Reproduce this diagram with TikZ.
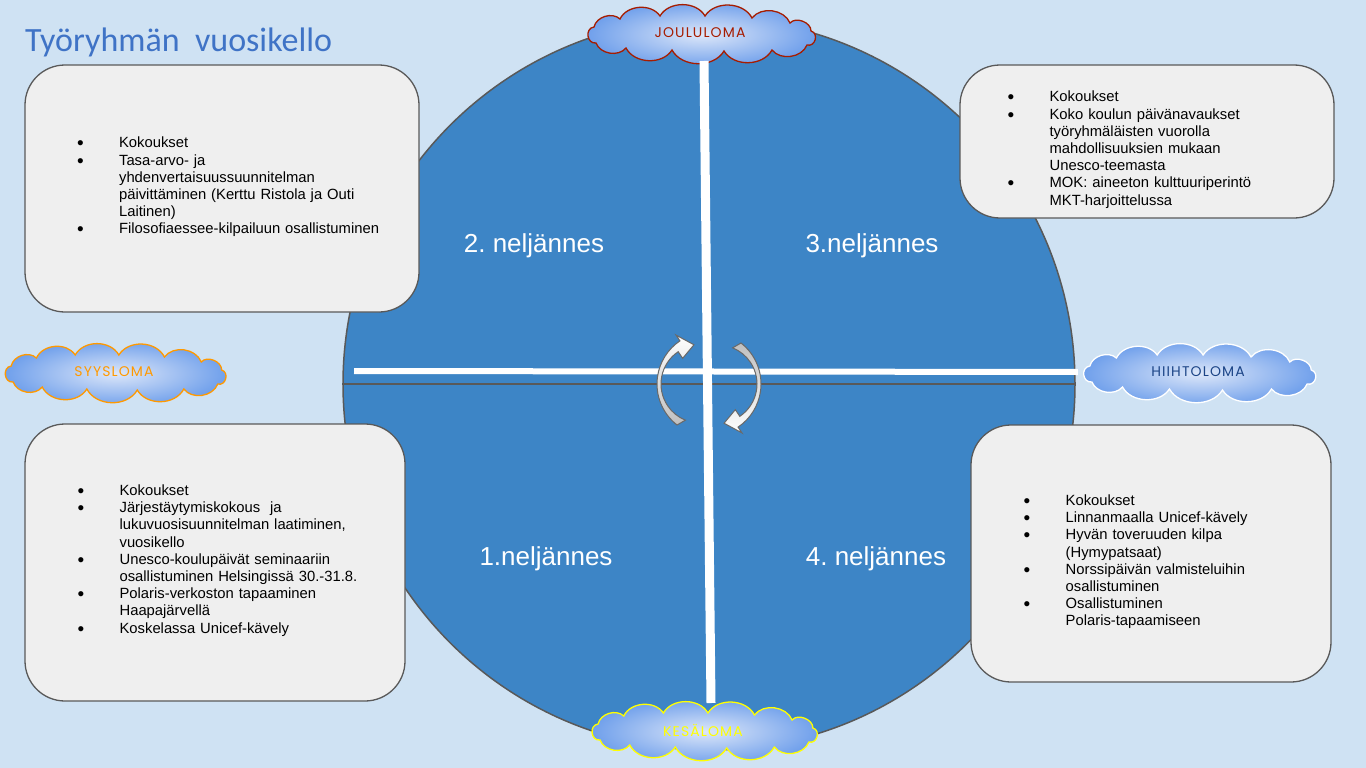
\documentclass[tikz,border=0pt]{standalone}
\usepackage{fontspec}
\setmainfont{Liberation Sans}
\newfontfamily\otsikko{Carlito}
\newfontfamily\pilvi[LetterSpace=8]{Poppins}
\usepackage{tikz}
\frenchspacing

\definecolor{tausta}{HTML}{CFE2F3}
\definecolor{pallo}{HTML}{3D85C6}
\definecolor{reuna}{HTML}{595959}
\definecolor{harmaa}{HTML}{EFEFEF}
\definecolor{otsik}{HTML}{3F73C6}
\definecolor{pilvisisa}{HTML}{DDE7F9}
\definecolor{pilviulko}{HTML}{6D9EEB}
\definecolor{joulu}{HTML}{A61C00}
\definecolor{syys}{HTML}{FF9900}
\definecolor{hiihto}{HTML}{1C4587}
\definecolor{kesa}{HTML}{FFFF00}

\tikzset{
  pilvi/.pic={
    \path[pic actions] (-104,10) to[bend left=90, looseness=1.5] (-106,-6)
      to[bend left=60] (-80,-14) to[bend left=60] (-40,-17) to[bend left=60] (5,-17)
      to[bend left=60] (52,-15) to[bend left=60] (90,-10) to[bend left=70] (111,-2)
      to[bend left=90, looseness=1.5] (107,12) to[bend left=60] (72,17) to[bend left=60] (24,18)
      to[bend left=60] (-28,17) to[bend left=60] (-74,15) to[bend left=60] (-104,10) -- cycle;
  },
  pilvivari/.style={inner color=pilvisisa, outer color=pilviulko, line width=1.3pt},
  loma/.style={minimum width=235, minimum height=58, inner sep=0pt, font=\pilvi\fontsize{14}{14}\selectfont},
  ruutu/.style={draw=reuna, fill=harmaa, rounded corners=40pt, line width=1.3pt},
  lista/.style={anchor=north west, inner sep=0pt, text width=340pt, align=left,
    font=\fontsize{14.8}{17.2}\selectfont},
  nelj/.style={text=white, anchor=base, font=\fontsize{26}{26}\selectfont},
  palkki/.style={draw=white, line width=#1},
  nuoli/.style={draw=reuna!90, line width=1pt}
}
\newcommand{\kohta}[1]{\noindent\hangindent=42pt\hangafter=1%
  \makebox[42pt][l]{\raisebox{-2pt}{\fontsize{19}{19}\selectfont\textbullet}}#1\par}

\begin{document}
\begin{tikzpicture}[x=1pt, y=-1pt]
  \fill[tausta] (0,0) rectangle (1366,768);
  \useasboundingbox (0,0) rectangle (1366,768);
  \node[anchor=base west, text=otsik, font=\otsikko\fontsize{34}{34}\selectfont, inner sep=0pt] (otsikko) at (25,52) {Työryhmän\ \ vuosikello};

  \node[circle, draw=reuna, fill=pallo, line width=1.5pt, minimum size=732] (ymp) at (709,384) {}; %
  \draw[reuna, line width=1.5pt] (ymp.west) -- (ymp.east);

  % lomat
  \pic[pilvivari, draw=joulu] at (700,33) {pilvi};
  \node[loma, text=joulu] (jl) at (700,33) {JOULULOMA}; %
  \pic[pilvivari, draw=syys, xscale=0.97] at (114,372) {pilvi};
  \node[loma, text=syys, minimum width=228] (sl) at (114,372) {SYYSLOMA}; %
  \pic[pilvivari, draw=white, xscale=1.02] at (1198,372) {pilvi};
  \node[loma, text=hiihto, minimum width=240] (hl) at (1198,372) {HIIHTOLOMA}; %
  \pic[pilvivari, draw=kesa, xscale=0.99] at (703,730) {pilvi};
  \node[loma, text=kesa, minimum width=233] (kl) at (703,730) {KESÄLOMA}; %

  \coordinate (vasen) at (354,371);
  \coordinate (yla) at (704,61);
  \coordinate (ala) at (711,703);
  \draw[palkki=6pt] (vasen) -- (hl.west);
  \draw[palkki=9pt] (yla) -- (ala);

  \node[nelj] (q2) at (534,252) {2. neljännes};
  \node[nelj] (q3) at (872,252) {3.neljännes};
  \node[nelj] (q1) at (546,565) {1.neljännes};
  \node[nelj] (q4) at (876,565) {4. neljännes};

  \node[ruutu, minimum width=394, minimum height=247] (b2) at (222,188.5) {};
  \node[ruutu, minimum width=374, minimum height=153] (b3) at (1147,141.5) {};
  \node[ruutu, minimum width=380, minimum height=277] (b1) at (215,562.5) {};
  \node[ruutu, minimum width=360, minimum height=257] (b4) at (1151,553.5) {};

  \node[lista] (t2) at (76.9,137) {%
    \kohta{Kokoukset}
    \kohta{Tasa-arvo- ja\newline yhdenvertaisuussuunnitelman\newline päivittäminen (Kerttu Ristola ja Outi\newline Laitinen)}
    \kohta{Filosofiaessee-kilpailuun osallistuminen}};
  \node[lista] (t3) at (1007.4,91) {%
    \kohta{Kokoukset}
    \kohta{Koko koulun päivänavaukset\newline työryhmäläisten vuorolla\newline mahdollisuuksien mukaan\newline Unesco-teemasta}
    \kohta{MOK: aineeton kulttuuriperintö\newline MKT-harjoittelussa}};
  \node[lista] (t1) at (77.4,484.5) {%
    \kohta{Kokoukset}
    \kohta{Järjestäytymiskokous\ \ ja\newline lukuvuosisuunnitelman laatiminen,\newline vuosikello}
    \kohta{Unesco-koulupäivät seminaariin\newline osallistuminen Helsingissä 30.-31.8.}
    \kohta{Polaris-verkoston tapaaminen\newline Haapajärvellä}
    \kohta{Koskelassa Unicef-kävely}};
  \node[lista] (t4) at (1023.5,494.5) {%
    \kohta{Kokoukset}
    \kohta{Linnanmaalla Unicef-kävely}
    \kohta{Hyvän toveruuden kilpa\newline (Hymypatsaat)}
    \kohta{Norssipäivän valmisteluihin\newline osallistuminen}
    \kohta{Osallistuminen\newline Polaris-tapaamiseen}};

  % kiertonuolet
  \begin{scope}[shift={(709,384)}]
    \filldraw[nuoli, top color=white, bottom color=gray!50] (128:52) arc[start angle=128, end angle=236, radius=52]
      -- (236:59) -- (249:42) -- ([xshift=-9]236:31) -- ([xshift=-9]236:39)
      arc[start angle=236, end angle=112, radius=39] -- cycle;
    \filldraw[nuoli, top color=gray!50, bottom color=white] (308:52) arc[start angle=308, end angle=416, radius=52]
      -- (56:59) -- (69:42) -- ([xshift=9]56:31) -- ([xshift=9]56:39)
      arc[start angle=416, end angle=292, radius=39] -- cycle;
  \end{scope}
\end{tikzpicture}
\end{document}
